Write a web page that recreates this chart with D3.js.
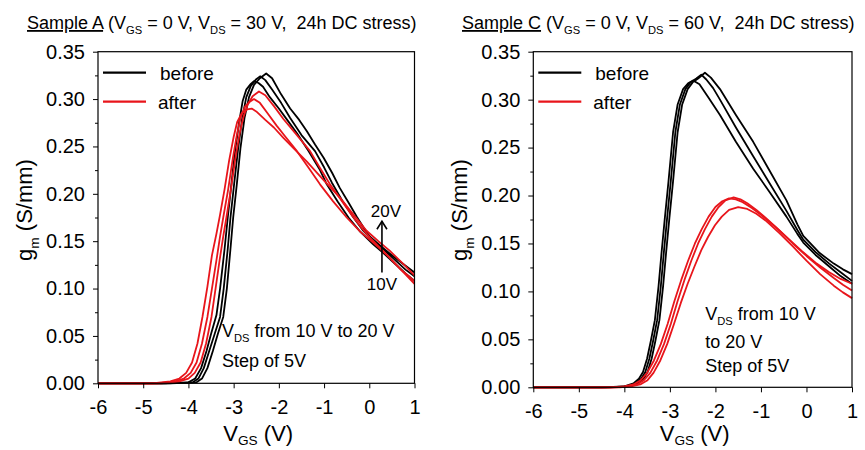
<!DOCTYPE html>
<html>
<head>
<meta charset="utf-8">
<script src="https://cdn.jsdelivr.net/npm/d3@7"></script>
<style>
body { margin: 0; background: #fff; }
text { font-family: "Liberation Sans", Arial, sans-serif; fill: #000; white-space: pre; }
</style>
</head>
<body>
<script>
// axis ticks
let xTicks = [-6, -5, -4, -3, -2, -1, 0, 1];
let yTicks = [0, 0.05, 0.10, 0.15, 0.20, 0.25, 0.30, 0.35];
let yMinor = [0.025, 0.075, 0.125, 0.175, 0.225, 0.275, 0.325];

// Sample A, before stress (VDS 10/15/20 V)  [VGS, gm]
let aBefore1 = [[-6,0],[-4.6,0],[-4.0,0.001],[-3.85,0.005],[-3.72,0.016],[-3.6,0.034],[-3.5,0.052],[-3.38,0.072],[-3.3,0.1],[-3.2,0.142],[-3.13,0.175],[-3.05,0.21],[-2.97,0.245],[-2.88,0.275],[-2.8,0.298],[-2.72,0.31],[-2.62,0.316],[-2.55,0.319],[-2.45,0.317],[-2.35,0.313],[-2.2,0.302],[-2.0,0.29],[-1.8,0.277],[-1.6,0.264],[-1.34,0.245],[-1.1,0.226],[-0.94,0.21],[-0.7,0.192],[-0.46,0.175],[-0.2,0.16],[0.08,0.147],[0.3,0.138],[0.55,0.127],[0.8,0.116],[1.0,0.108]];
let aBefore2 = [[-6,0],[-4.5,0],[-3.9,0.001],[-3.78,0.005],[-3.66,0.016],[-3.54,0.034],[-3.42,0.052],[-3.3,0.07],[-3.22,0.1],[-3.13,0.142],[-3.07,0.175],[-2.99,0.21],[-2.9,0.248],[-2.81,0.28],[-2.72,0.302],[-2.62,0.314],[-2.5,0.321],[-2.41,0.324],[-2.3,0.32],[-2.15,0.31],[-1.95,0.296],[-1.75,0.28],[-1.5,0.262],[-1.2,0.245],[-1.0,0.228],[-0.83,0.212],[-0.6,0.193],[-0.35,0.175],[-0.15,0.162],[0.05,0.152],[0.3,0.142],[0.55,0.131],[0.8,0.12],[1.0,0.113]];
let aBefore3 = [[-6,0],[-4.4,0],[-3.82,0.001],[-3.7,0.005],[-3.58,0.016],[-3.46,0.034],[-3.35,0.052],[-3.23,0.07],[-3.15,0.1],[-3.07,0.142],[-3.01,0.175],[-2.93,0.21],[-2.85,0.248],[-2.76,0.28],[-2.66,0.302],[-2.55,0.315],[-2.42,0.322],[-2.28,0.327],[-2.15,0.322],[-1.95,0.305],[-1.75,0.29],[-1.55,0.278],[-1.38,0.266],[-1.2,0.252],[-1.01,0.238],[-0.82,0.222],[-0.65,0.206],[-0.45,0.19],[-0.28,0.176],[-0.12,0.164],[0.01,0.155],[0.25,0.145],[0.45,0.137],[0.75,0.126],[1.0,0.117]];

// Sample A, after stress
let aAfter1 = [[-6,0],[-4.8,0],[-4.4,0.002],[-4.2,0.005],[-4.05,0.011],[-3.92,0.022],[-3.8,0.042],[-3.69,0.07],[-3.58,0.102],[-3.48,0.135],[-3.38,0.158],[-3.3,0.178],[-3.2,0.205],[-3.1,0.235],[-3.0,0.26],[-2.92,0.276],[-2.82,0.285],[-2.7,0.289],[-2.6,0.29],[-2.5,0.287],[-2.3,0.278],[-2.11,0.27],[-1.9,0.259],[-1.65,0.247],[-1.38,0.234],[-1.0,0.214],[-0.65,0.196],[-0.35,0.178],[-0.06,0.161],[0.2,0.15],[0.45,0.14],[0.75,0.126],[1.0,0.114]];
let aAfter2 = [[-6,0],[-4.7,0],[-4.3,0.002],[-4.1,0.005],[-3.95,0.011],[-3.82,0.022],[-3.7,0.042],[-3.58,0.07],[-3.48,0.1],[-3.38,0.13],[-3.3,0.155],[-3.23,0.175],[-3.12,0.205],[-3.02,0.237],[-2.93,0.262],[-2.85,0.28],[-2.75,0.292],[-2.65,0.297],[-2.55,0.3],[-2.42,0.296],[-2.25,0.285],[-2.05,0.272],[-1.85,0.26],[-1.6,0.245],[-1.35,0.228],[-1.09,0.21],[-0.8,0.192],[-0.5,0.175],[-0.2,0.16],[0.1,0.148],[0.4,0.135],[0.7,0.12],[1.0,0.108]];
let aAfter3 = [[-6,0],[-4.6,0],[-4.2,0.002],[-4.0,0.005],[-3.86,0.011],[-3.73,0.022],[-3.61,0.042],[-3.49,0.07],[-3.4,0.1],[-3.31,0.13],[-3.23,0.155],[-3.16,0.175],[-3.06,0.205],[-2.96,0.238],[-2.87,0.263],[-2.79,0.28],[-2.69,0.294],[-2.58,0.303],[-2.44,0.308],[-2.3,0.304],[-2.1,0.292],[-1.9,0.279],[-1.6,0.262],[-1.31,0.245],[-1.1,0.228],[-0.87,0.21],[-0.6,0.192],[-0.35,0.175],[-0.15,0.163],[0.01,0.154],[0.3,0.14],[0.6,0.125],[0.8,0.115],[1.0,0.105]];

// Sample C, before stress
let cBefore1 = [[-6,0],[-4.5,0],[-4.0,0.001],[-3.8,0.004],[-3.68,0.009],[-3.59,0.016],[-3.5,0.03],[-3.42,0.048],[-3.33,0.07],[-3.25,0.105],[-3.18,0.142],[-3.11,0.177],[-3.03,0.215],[-2.93,0.266],[-2.83,0.295],[-2.71,0.311],[-2.6,0.317],[-2.49,0.32],[-2.35,0.316],[-2.15,0.302],[-1.9,0.284],[-1.55,0.256],[-1.17,0.228],[-0.8,0.203],[-0.44,0.178],[-0.2,0.16],[-0.07,0.151],[0.2,0.138],[0.5,0.126],[0.75,0.116],[1.0,0.108]];
let cBefore2 = [[-6,0],[-4.4,0],[-3.95,0.001],[-3.75,0.004],[-3.63,0.009],[-3.54,0.016],[-3.45,0.03],[-3.37,0.048],[-3.28,0.07],[-3.2,0.105],[-3.13,0.142],[-3.06,0.177],[-2.98,0.215],[-2.88,0.266],[-2.78,0.295],[-2.66,0.311],[-2.55,0.318],[-2.42,0.322],[-2.31,0.326],[-2.2,0.321],[-2.05,0.312],[-1.9,0.3],[-1.55,0.271],[-1.17,0.241],[-0.8,0.212],[-0.44,0.184],[-0.2,0.164],[-0.07,0.154],[0.2,0.141],[0.5,0.129],[0.75,0.12],[1.0,0.111]];
let cBefore3 = [[-6,0],[-4.3,0],[-3.9,0.001],[-3.7,0.004],[-3.58,0.009],[-3.49,0.016],[-3.4,0.03],[-3.32,0.048],[-3.23,0.07],[-3.15,0.105],[-3.08,0.142],[-3.01,0.177],[-2.93,0.215],[-2.83,0.266],[-2.73,0.295],[-2.61,0.311],[-2.5,0.318],[-2.38,0.322],[-2.23,0.328],[-2.1,0.323],[-1.9,0.311],[-1.55,0.284],[-1.17,0.256],[-0.8,0.225],[-0.44,0.195],[-0.2,0.17],[-0.07,0.158],[0.29,0.14],[0.6,0.129],[0.8,0.123],[1.0,0.118]];

// Sample C, after stress
let cAfter1 = [[-6,0],[-4.3,0],[-4.0,0.001],[-3.8,0.003],[-3.65,0.007],[-3.5,0.015],[-3.35,0.028],[-3.2,0.045],[-3.05,0.066],[-2.9,0.09],[-2.75,0.112],[-2.6,0.132],[-2.45,0.15],[-2.3,0.165],[-2.15,0.178],[-2.0,0.188],[-1.85,0.194],[-1.7,0.197],[-1.55,0.196],[-1.4,0.193],[-1.2,0.187],[-1.0,0.18],[-0.7,0.168],[-0.4,0.155],[-0.1,0.142],[0.2,0.13],[0.5,0.12],[0.75,0.113],[1.0,0.108]];
let cAfter2 = [[-6,0],[-4.2,0],[-3.92,0.001],[-3.72,0.003],[-3.58,0.007],[-3.43,0.015],[-3.28,0.028],[-3.13,0.045],[-2.98,0.066],[-2.83,0.09],[-2.68,0.112],[-2.53,0.132],[-2.38,0.15],[-2.23,0.165],[-2.08,0.178],[-1.93,0.188],[-1.78,0.195],[-1.6,0.198],[-1.45,0.196],[-1.3,0.192],[-1.1,0.185],[-0.9,0.177],[-0.6,0.164],[-0.3,0.15],[0.0,0.137],[0.3,0.125],[0.6,0.114],[0.8,0.107],[1.0,0.101]];
let cAfter3 = [[-6,0],[-4.1,0],[-3.85,0.001],[-3.65,0.003],[-3.5,0.007],[-3.36,0.015],[-3.21,0.028],[-3.06,0.045],[-2.91,0.066],[-2.76,0.088],[-2.61,0.108],[-2.46,0.126],[-2.31,0.143],[-2.16,0.157],[-2.01,0.169],[-1.86,0.178],[-1.7,0.185],[-1.5,0.188],[-1.3,0.186],[-1.1,0.181],[-0.9,0.174],[-0.6,0.161],[-0.3,0.147],[0.0,0.132],[0.3,0.118],[0.6,0.106],[0.8,0.099],[1.0,0.093]];

let red = "#e8151b";
let svg = d3.select("body").append("svg").attr("width", 865).attr("height", 450);

// text with subscripts: parts = [[str, isSub, underline], ...]
function richText(sel, parts, size, drop) {
    drop = drop || 0.3;
    let t = sel.append("text").attr("font-size", size);
    parts.forEach(function(p, i) {
        let sp = t.append("tspan").text(p[0]);
        if (p[1]) {
            sp.attr("font-size", size * 0.62).attr("dy", size * drop);
        } else if (i > 0 && parts[i - 1][1]) {
            sp.attr("dy", -size * drop);
        }
        if (p[2]) sp.attr("text-decoration", "underline");
    });
    return t;
}

function panel(cfg) {
    let x = d3.scaleLinear().domain([-6, 1]).range(cfg.xr);
    let y = d3.scaleLinear().domain([0, 0.35]).range(cfg.yr);
    let left = cfg.xr[0], top = cfg.yr[1], bottom = cfg.yr[0];
    let g = svg.append("g");
    let line = d3.line().x(function(d) { return x(d[0]); }).y(function(d) { return y(d[1]); });

    g.selectAll("path.before").data(cfg.before).enter().append("path")
        .attr("class", "before").attr("d", line).attr("fill", "none")
        .attr("stroke", "#000").attr("stroke-width", 1.8).attr("stroke-linejoin", "round");
    g.selectAll("path.after").data(cfg.after).enter().append("path")
        .attr("class", "after").attr("d", line).attr("fill", "none")
        .attr("stroke", red).attr("stroke-width", 1.8).attr("stroke-linejoin", "round");

    g.append("rect").attr("x", left).attr("y", top)
        .attr("width", cfg.xr[1] - left).attr("height", bottom - top)
        .attr("fill", "none").attr("stroke", "#000").attr("stroke-width", 1.2);

    let xa = g.append("g").attr("transform", "translate(0," + bottom + ")")
        .call(d3.axisBottom(x).tickValues(xTicks).tickSize(5).tickPadding(12).tickFormat(function(d) { return String(d); }));
    let ym = g.append("g").attr("transform", "translate(" + left + ",0)")
        .call(d3.axisLeft(y).tickValues(yMinor).tickSize(3).tickFormat(""));
    let ya = g.append("g").attr("transform", "translate(" + left + ",0)")
        .call(d3.axisLeft(y).tickValues(yTicks).tickSize(5).tickPadding(8).tickFormat(d3.format(".2f")));
    [xa, ym, ya].forEach(function(a) {
        a.select(".domain").remove();
        a.selectAll("text").attr("font-size", 20).attr("font-family", "Liberation Sans, Arial, sans-serif").attr("fill", "#000");
        a.selectAll("line").attr("stroke", "#000");
    });

    // axis titles
    richText(g, [["V", false], ["GS", true], [" (V)", false]], 22, 0.2)
        .attr("x", (cfg.xr[0] + cfg.xr[1]) / 2 + 2).attr("y", 441).attr("text-anchor", "middle");
    richText(g, [["g", false], ["m", true], [" (S/mm)", false]], 22)
        .attr("text-anchor", "middle")
        .attr("transform", "translate(" + (left - 66) + ",210) rotate(-90)");

    // legend
    g.append("line").attr("x1", left + 5).attr("x2", left + 48).attr("y1", top + 21).attr("y2", top + 21)
        .attr("stroke", "#000").attr("stroke-width", 2.2);
    g.append("text").attr("x", left + 62).attr("y", top + 28).attr("font-size", 19).text("before");
    g.append("line").attr("x1", left + 5).attr("x2", left + 48).attr("y1", top + 50).attr("y2", top + 50)
        .attr("stroke", red).attr("stroke-width", 2.2);
    g.append("text").attr("x", left + 60).attr("y", top + 57).attr("font-size", 19).text("after");

    // title
    richText(svg, cfg.title, 18, 0.25).attr("x", cfg.titleX).attr("y", 29);

    // note
    cfg.note.forEach(function(n, i) {
        richText(g, n, 18).attr("x", left + cfg.noteX).attr("y", top + cfg.noteY[i]);
    });
    return { x: x, y: y, g: g };
}

let pa = panel({
    xr: [98, 414.5], yr: [383.3, 51.7],
    before: [aBefore1, aBefore2, aBefore3], after: [aAfter1, aAfter2, aAfter3],
    title: [["Sample A", false, true], [" (V", false], ["GS", true], [" = 0 V, V", false], ["DS", true], [" = 30 V,  24h DC stress)", false]],
    titleX: 27,
    note: [[["V", false], ["DS", true], [" from 10 V to 20 V", false]], [["Step of 5V", false]]],
    noteX: 124, noteY: [285, 315]
});
let pc = panel({
    xr: [533.3, 852], yr: [387.3, 51.7],
    before: [cBefore1, cBefore2, cBefore3], after: [cAfter1, cAfter2, cAfter3],
    title: [["Sample C", false, true], [" (V", false], ["GS", true], [" = 0 V, V", false], ["DS", true], [" = 60 V,  24h DC stress)", false]],
    titleX: 462,
    note: [[["V", false], ["DS", true], [" from 10 V", false]], [["to 20 V", false]], [["Step of 5V", false]]],
    noteX: 172, noteY: [268, 296, 320]
});

// VDS arrow in sample A
let arrowV = 0.28, arrowFrom = 0.117, arrowTo = 0.171;
let ax = pa.x(arrowV);
pa.g.append("line").attr("x1", ax).attr("x2", ax).attr("y1", pa.y(arrowFrom)).attr("y2", pa.y(arrowTo))
    .attr("stroke", "#000").attr("stroke-width", 1.6);
pa.g.append("path")
    .attr("d", "M" + (ax - 5) + "," + (pa.y(arrowTo) + 8) + "L" + ax + "," + pa.y(arrowTo) + "L" + (ax + 5) + "," + (pa.y(arrowTo) + 8))
    .attr("fill", "none").attr("stroke", "#000").attr("stroke-width", 1.6);
pa.g.append("text").attr("x", ax + 4).attr("y", pa.y(arrowTo) - 4).attr("text-anchor", "middle").attr("font-size", 17).text("20V");
pa.g.append("text").attr("x", ax).attr("y", pa.y(arrowFrom) + 18).attr("text-anchor", "middle").attr("font-size", 17).text("10V");
</script>
</body>
</html>
